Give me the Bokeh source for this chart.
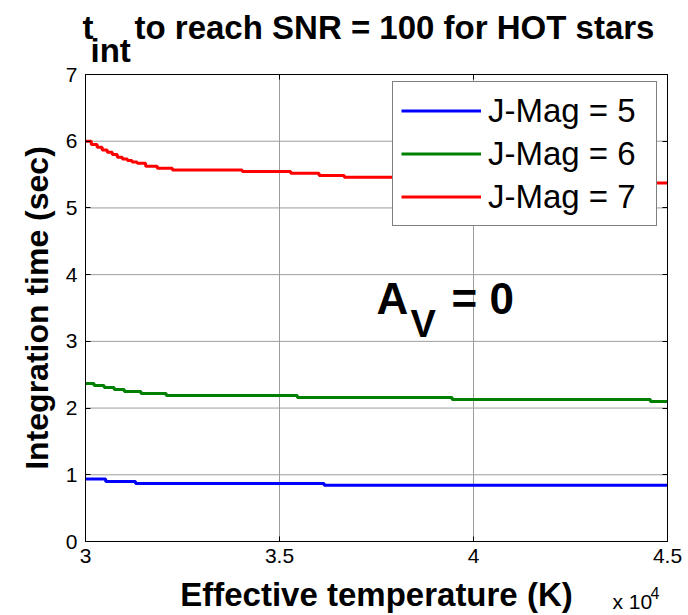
from bokeh.plotting import figure
from bokeh.models import Range1d, FixedTicker, LinearAxis, Label, Legend
from bokeh.embed import file_html
from bokeh.resources import INLINE

# ---- data ----
temp_j5 = [30000, 30520, 31290, 36150, 45000]
tint_j5 = [0.935, 0.90, 0.87, 0.845, 0.845]

temp_j6 = [30000, 30220, 30480, 30740, 31000, 31430, 32080, 35460, 39450, 44560, 45000]
tint_j6 = [2.37, 2.34, 2.31, 2.28, 2.25, 2.22, 2.19, 2.16, 2.13, 2.10, 2.10]

temp_j7 = [30000, 30150, 30300, 30430, 30560, 30690, 30820, 30950, 31080, 31200,
           31330, 31550, 31850, 32240, 34040, 35290, 36020, 36670, 38300, 40000,
           41800, 43600, 45000]
tint_j7 = [6.00, 5.95, 5.91, 5.87, 5.835, 5.80, 5.76, 5.735, 5.71, 5.69,
           5.67, 5.625, 5.595, 5.57, 5.545, 5.52, 5.485, 5.46, 5.44, 5.42,
           5.40, 5.375, 5.375]

series_labels = ["J-Mag = 5", "J-Mag = 6", "J-Mag = 7"]
x_ticks = [30000, 35000, 40000, 45000]
x_tick_labels = ["3", "3.5", "4", "4.5"]
y_ticks = [0, 1, 2, 3, 4, 5, 6, 7]

FONT = "Liberation Sans"

# ---- layout: axes box position in the 688x615 canvas ----
W, H = 688, 615
BOX_L, BOX_R, BOX_T, BOX_B = 85, 667, 74, 541
X0, X1 = x_ticks[0], x_ticks[-1]
Y0, Y1 = y_ticks[0], y_ticks[-1]
kx = (X1 - X0) / (BOX_R - BOX_L)
ky = (Y1 - Y0) / (BOX_B - BOX_T)
x_range = Range1d(X0 - BOX_L * kx, X1 + (W - BOX_R) * kx)
y_range = Range1d(Y0 - (H - BOX_B) * ky, Y1 + BOX_T * ky)

p = figure(width=W, height=H, output_backend="svg", toolbar_location=None,
           x_range=x_range, y_range=y_range, min_border=0,
           min_border_left=0, min_border_right=0, min_border_top=0,
           min_border_bottom=0)
p.title.visible = False
p.background_fill_color = "white"
p.border_fill_color = "white"
p.outline_line_color = None
p.xgrid.visible = False
p.ygrid.visible = False

xt = FixedTicker(ticks=x_ticks)
yt = FixedTicker(ticks=y_ticks)

# grid lines at the ticks, inside the axes box
p.segment(x0=x_ticks, y0=[Y0] * len(x_ticks), x1=x_ticks, y1=[Y1] * len(x_ticks),
          line_color="#9c9c9c", line_width=1)
p.segment(x0=[X0] * len(y_ticks), y0=y_ticks, x1=[X1] * len(y_ticks), y1=y_ticks,
          line_color="#9c9c9c", line_width=1)

# axes (fixed at the box edges)
xa = p.xaxis[0]
ya = p.yaxis[0]
xa.ticker = xt
ya.ticker = yt
xa.fixed_location = Y0
ya.fixed_location = X0
xa.bounds = (X0, X1)
ya.bounds = (Y0, Y1)
xa.major_label_overrides = {t: l for t, l in zip(x_ticks, x_tick_labels)}
for ax in (xa, ya):
    ax.axis_line_color = "black"
    ax.axis_line_width = 1
    ax.major_tick_in = 5
    ax.major_tick_out = 0
    ax.minor_tick_line_color = None
    ax.major_tick_line_color = "black"
    ax.major_label_text_font = FONT
    ax.major_label_text_font_size = "21px"
    ax.major_label_text_color = "black"
    ax.axis_label_text_font = FONT
    ax.axis_label_text_font_style = "bold"
    ax.axis_label_text_color = "black"

xa.axis_label = "Effective temperature (K)"
xa.axis_label_text_font_size = "33px"
xa.major_label_standoff = 7
xa.axis_label_standoff = 10

ya.axis_label = "Integration time (sec)"
ya.axis_label_text_font_size = "32px"
ya.major_label_standoff = 8
ya.axis_label_standoff = 8

top_ax = LinearAxis(ticker=xt, fixed_location=Y1, bounds=(X0, X1),
                    major_label_overrides={t: "" for t in x_ticks})
right_ax = LinearAxis(ticker=yt, fixed_location=X1, bounds=(Y0, Y1),
                      major_label_overrides={t: "" for t in y_ticks})
for ax in (top_ax, right_ax):
    ax.axis_line_color = "black"
    ax.major_tick_in = 5
    ax.major_tick_out = 0
    ax.major_tick_line_color = "black"
    ax.minor_tick_line_color = None
    ax.major_label_standoff = 0
p.add_layout(top_ax, "above")
p.add_layout(right_ax, "right")

# series
r5 = p.step(temp_j5, tint_j5, mode="after", line_color="#0000ff", line_width=3)
r6 = p.step(temp_j6, tint_j6, mode="after", line_color="#008000", line_width=3)
r7 = p.step(temp_j7, tint_j7, mode="after", line_color="#ff0000", line_width=3)

legend = Legend(items=[(series_labels[0], [r5]), (series_labels[1], [r6]),
                       (series_labels[2], [r7])],
                location=(392, 389))
legend.label_text_font = FONT
legend.label_text_font_size = "33px"
legend.label_text_color = "black"
legend.glyph_width = 80
legend.glyph_height = 41
legend.label_height = 41
legend.label_width = 160
legend.label_standoff = 7
legend.padding = 8
legend.spacing = 2
legend.margin = 0
legend.border_line_color = "black"
legend.border_line_width = 1
legend.background_fill_color = "white"
legend.background_fill_alpha = 1
p.add_layout(legend, "center")


def lab(txt, x, y, size, bold=True):
    p.add_layout(Label(x=x, y=y, text=txt, text_font=FONT,
                       text_font_size=f"{size}px",
                       text_font_style="bold" if bold else "normal",
                       text_color="black", text_baseline="alphabetic",
                       text_align="left"))


# title with subscript
lab("t", 29923, 7.698, 33)
lab("int", 30129, 7.354, 33)
lab("to reach SNR = 100 for HOT stars", 31263, 7.698, 33)

# A_V = 0 annotation
lab("A", 37500, 3.64, 44)
lab("V", 38375, 3.256, 38)
lab("= 0", 39432, 3.64, 44)

# x 10^4 multiplier
lab("x 10", 43582, -0.90, 21, bold=False)
lab("4", 44562, -0.765, 16, bold=False)

open("out.html", "w").write(file_html(p, INLINE))
